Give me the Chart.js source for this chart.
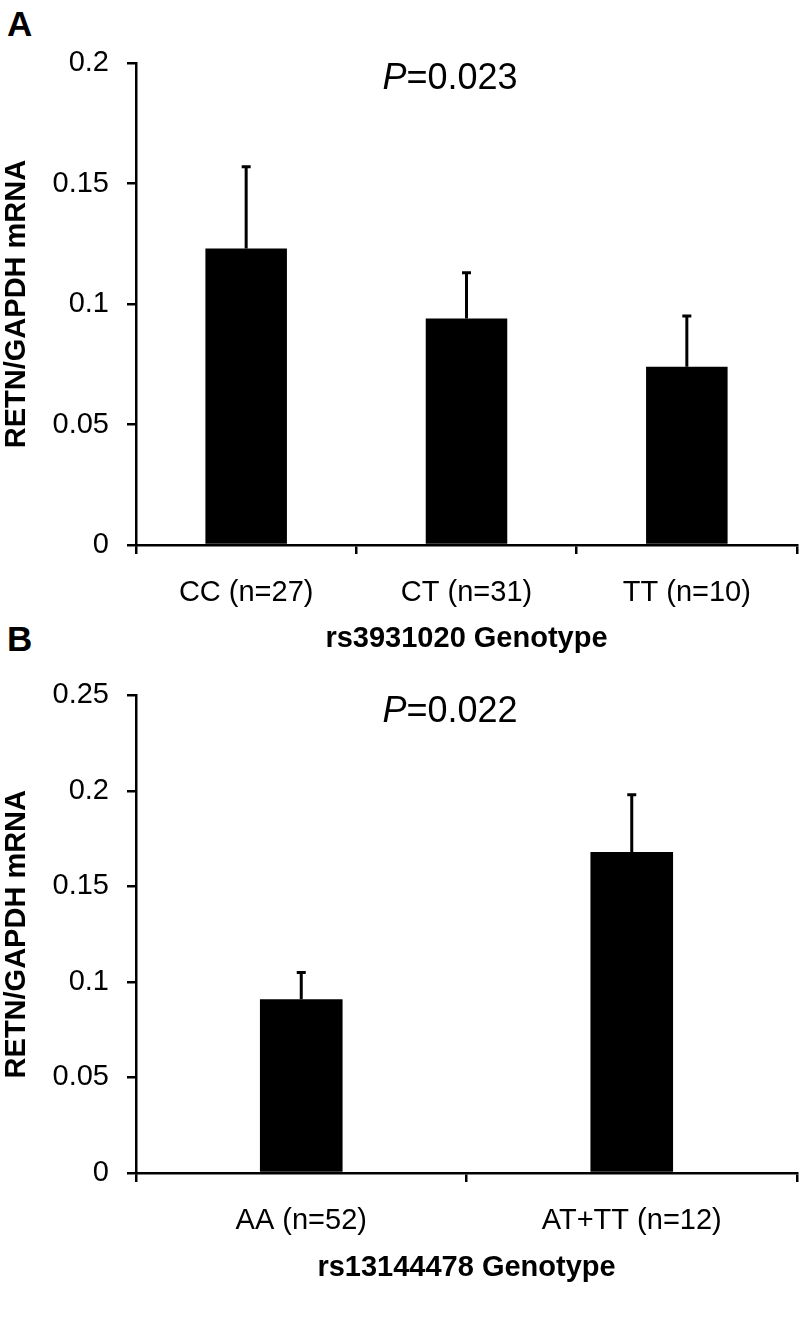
<!DOCTYPE html>
<html lang="en">
<head>
  <meta charset="UTF-8" />
  <title>RETN/GAPDH mRNA by genotype</title>
  <style>
    * { box-sizing: border-box; margin: 0; padding: 0; }
    body {
      width: 800px;
      height: 1339px;
      background: #fff;
      position: relative;
      font-family: 'Liberation Sans', Arial, sans-serif;
      overflow: hidden;
    }
    canvas { position: absolute; left: 0; }
    #chartA { top: 0; }
    #chartB { top: 660px; }
    .panel {
      position: absolute;
      font-weight: bold;
      font-size: 35px;
      line-height: 1;
      color: #000;
    }
  </style>
</head>
<body>
  <div class="panel" style="left:7px; top:6px;">A</div>
  <div class="panel" style="left:7px; top:621px;">B</div>
  <canvas id="chartA" width="800" height="660"></canvas>
  <canvas id="chartB" width="800" height="679"></canvas>

  <script src="https://cdn.jsdelivr.net/npm/chart.js"></script>
  <script>
    // panel A - rs3931020
    const genotypesA = ['CC (n=27)', 'CT (n=31)', 'TT (n=10)'];
    const meanA = [0.123, 0.094, 0.074];
    const seA = [0.034, 0.019, 0.021];
    const yMaxA = 0.2;
    const pValueA = '0.023';

    // panel B - rs13144478
    const genotypesB = ['AA (n=52)', 'AT+TT (n=12)'];
    const meanB = [0.091, 0.168];
    const seB = [0.014, 0.030];
    const yMaxB = 0.25;
    const pValueB = '0.022';

    const yStep = 0.05;
    const FONT = "'Liberation Sans', Arial, sans-serif";

    // upper error bars only
    const errorBars = {
      id: 'errorBars',
      afterDatasetsDraw(chart) {
        const ctx = chart.ctx;
        const y = chart.scales.y;
        chart.data.datasets.forEach((ds, i) => {
          chart.getDatasetMeta(i).data.forEach((bar, j) => {
            const top = y.getPixelForValue(ds.data[j] + ds.se[j]);
            ctx.save();
            ctx.strokeStyle = '#000';
            ctx.lineWidth = 3;
            ctx.beginPath();
            ctx.moveTo(bar.x, bar.y);
            ctx.lineTo(bar.x, top);
            ctx.moveTo(bar.x - 4.5, top);
            ctx.lineTo(bar.x + 4.5, top);
            ctx.stroke();
            ctx.restore();
          });
        });
      }
    };

    // "P=0.0xx" label with italic P
    const pLabel = {
      id: 'pLabel',
      afterDraw(chart, args, opts) {
        const ctx = chart.ctx;
        const size = 36;
        ctx.save();
        ctx.fillStyle = '#000';
        ctx.textBaseline = 'middle';
        ctx.font = 'italic ' + size + 'px ' + FONT;
        const pW = ctx.measureText('P').width;
        ctx.font = size + 'px ' + FONT;
        const rest = '=' + opts.text;
        const rW = ctx.measureText(rest).width;
        const x0 = opts.cx - (pW + rW) / 2;
        ctx.font = 'italic ' + size + 'px ' + FONT;
        ctx.fillText('P', x0, opts.cy);
        ctx.font = size + 'px ' + FONT;
        ctx.fillText(rest, x0 + pW, opts.cy);
        ctx.restore();
      }
    };

    function makeChart(id, labels, means, se, yMax, xTitle, pText, geom) {
      return new Chart(document.getElementById(id), {
        type: 'bar',
        data: {
          labels: labels,
          datasets: [{
            data: means,
            se: se,
            backgroundColor: '#000',
            borderWidth: 0,
            categoryPercentage: 1,
            barPercentage: geom.barPct
          }]
        },
        plugins: [errorBars, pLabel],
        options: {
          responsive: false,
          animation: false,
          events: [],
          layout: { padding: { top: geom.top, right: 3, left: 0, bottom: 0 } },
          plugins: {
            legend: { display: false },
            tooltip: { enabled: false },
            pLabel: { text: pText, cx: 450, cy: geom.pY }
          },
          scales: {
            x: {
              afterFit(scale) { scale.height = geom.xHeight; },
              grid: {
                offset: true,
                drawOnChartArea: false,
                drawTicks: true,
                tickLength: 9,
                color: '#000',
                lineWidth: 2.5
              },
              border: { display: true, color: '#000', width: 2.5 },
              ticks: {
                color: '#000',
                padding: 22,
                maxRotation: 0,
                font: { family: FONT, size: 29 }
              },
              title: {
                display: true,
                text: xTitle,
                color: '#000',
                font: { family: FONT, size: 29, weight: 'bold' },
                padding: { top: 0, bottom: geom.titlePad }
              }
            },
            y: {
              min: 0,
              max: yMax,
              afterFit(scale) { scale.width = 136; },
              grid: {
                drawOnChartArea: false,
                drawTicks: true,
                tickLength: 9,
                color: '#000',
                lineWidth: 2.5
              },
              border: { display: true, color: '#000', width: 2.5 },
              ticks: {
                stepSize: yStep,
                color: '#000',
                padding: 18,
                font: { family: FONT, size: 29 },
                callback: v => String(Number(v.toFixed(2)))
              },
              title: {
                display: true,
                text: 'RETN/GAPDH mRNA',
                color: '#000',
                font: { family: FONT, size: 29, weight: 'bold' },
                padding: { top: 0, bottom: 0 }
              }
            }
          }
        }
      });
    }

    makeChart('chartA', genotypesA, meanA, seA, yMaxA, 'rs3931020 Genotype', pValueA,
      { barPct: 0.37, top: 63, xHeight: 115, titlePad: 4, pY: 79 });

    makeChart('chartB', genotypesB, meanB, seB, yMaxB, 'rs13144478 Genotype', pValueB,
      { barPct: 0.25, top: 32, xHeight: 166, titlePad: 54, pY: 52 });
  </script>
</body>
</html>
